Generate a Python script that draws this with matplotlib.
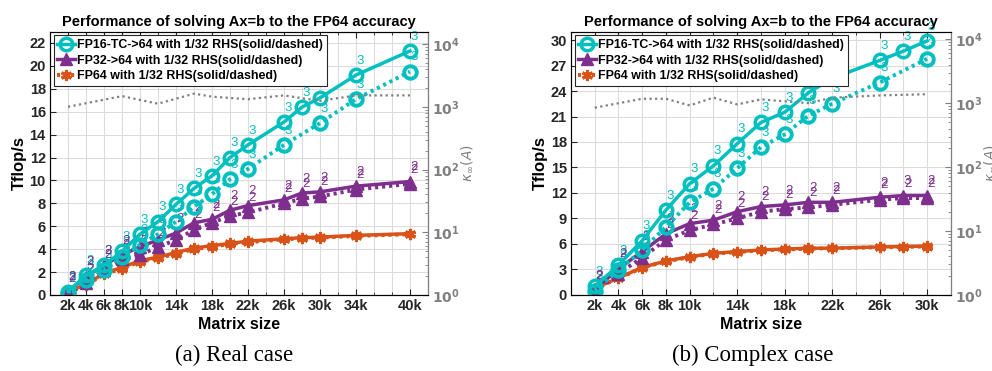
import numpy as np
import matplotlib
matplotlib.use("Agg")
import matplotlib.pyplot as plt
from matplotlib.lines import Line2D

plt.rcParams['font.family'] = ['Liberation Sans', 'DejaVu Sans']
plt.rcParams['mathtext.fontset'] = 'dejavusans'

# ---- real case ----
x_real = [2, 4, 6, 8, 10, 12, 14, 16, 18, 20, 22, 26, 28, 30, 34, 40]
x_real_dash = [2, 4, 6, 8, 10, 12, 14, 16, 18, 20, 22, 26, 30, 34, 40]
fp16_real = [0.3, 1.7, 2.6, 3.8, 5.3, 6.4, 7.9, 9.3, 10.4, 12.0, 13.1, 15.1, 16.4, 17.2, 19.2, 21.3]
fp16_real_dash = [0.2, 1.3, 2.2, 3.3, 4.4, 5.3, 6.4, 7.7, 8.8, 10.1, 11.0, 13.1, 15.0, 17.1, 19.5]
fp32_real = [0.3, 1.6, 2.6, 3.5, 4.2, 4.8, 5.4, 6.3, 6.6, 7.4, 7.8, 8.3, 8.9, 9.0, 9.5, 9.9]
fp32_real_dash = [0.1, 1.0, 2.2, 3.1, 3.5, 4.2, 4.8, 5.7, 6.3, 6.9, 7.2, 8.0, 8.4, 8.6, 9.2, 9.7]
fp64_real = [0.3, 0.9, 1.9, 2.4, 3.0, 3.3, 3.7, 4.1, 4.3, 4.5, 4.7, 4.9, 5.0, 5.05, 5.2, 5.35]
fp64_real_dash = [0.25, 0.85, 1.8, 2.3, 2.9, 3.2, 3.6, 4.0, 4.2, 4.45, 4.6, 4.85, 4.95, 5.0, 5.15, 5.3]
it16_real = [3] * 16
it16_real_dash = [3] * 15
it32_real = [2] * 16
it32_real_dash = [2] * 16
xk_real = [2, 8, 12, 16, 18, 22, 26, 30, 34, 40]
kappa_real = [1000, 1480, 1120, 1620, 1450, 1320, 1520, 1240, 1520, 1520]
xt_real = [2, 4, 6, 8, 10, 14, 18, 22, 26, 30, 34, 40]

# ---- complex case ----
x_cplx = [2, 4, 6, 8, 10, 12, 14, 16, 18, 20, 22, 26, 28, 30]
x_cplx_dash = [2, 4, 6, 8, 10, 12, 14, 16, 18, 20, 22, 26, 30]
fp16_cplx = [1.0, 3.5, 6.4, 10.0, 13.1, 15.2, 17.8, 20.3, 21.5, 23.8, 25.5, 27.6, 28.7, 29.9]
fp16_cplx_dash = [0.5, 2.9, 5.3, 8.0, 10.9, 12.5, 14.9, 17.4, 18.9, 21.1, 22.5, 25.0, 27.8]
fp32_cplx = [0.6, 3.1, 5.1, 7.2, 8.4, 8.8, 9.8, 10.4, 10.6, 10.9, 10.9, 11.5, 11.7, 11.7]
fp32_cplx_dash = [0.4, 2.5, 4.4, 6.5, 7.6, 8.3, 9.0, 9.8, 10.1, 10.3, 10.6, 11.2, 11.4, 11.4]
fp64_cplx = [0.8, 2.0, 3.25, 4.0, 4.5, 4.9, 5.1, 5.3, 5.4, 5.5, 5.5, 5.65, 5.7, 5.75]
fp64_cplx_dash = [0.75, 1.95, 3.2, 3.95, 4.45, 4.85, 5.05, 5.25, 5.35, 5.45, 5.5, 5.6, 5.65, 5.7]
it16_cplx = [3] * 14
it16_cplx_dash = [3] * 13
it32_cplx = [2, 2, 2, 2, 2, 2, 2, 2, 2, 2, 2, 2, 3, 2]
it32_cplx_dash = [2] * 14
xk_cplx = [2, 6, 8, 10, 12, 14, 16, 18, 20, 22, 26, 30]
kappa_cplx = [850, 1170, 1170, 920, 1220, 955, 1145, 1070, 1000, 1220, 1320, 1380]
xt_cplx = [2, 4, 6, 8, 10, 14, 18, 22, 26, 30]

CYAN = '#00bfbf'
PURP = '#7e2f8e'
ORNG = '#d95319'
GRAY = '#808080'
DOT = (0, (0.8, 1.0))

fig = plt.figure(figsize=(9.92, 3.71), dpi=100)


def label_pts(ax, xs, ys, its, color):
    for x, y, it in zip(xs, ys, its):
        ax.annotate(str(it), (x, y), xytext=(3, 6), textcoords='offset points',
                    ha='center', va='bottom', color=color, fontsize=9.5)


def panel(rect, xs, xs_d, s16, d16, s32, d32, s64, d64, i16, i16d, i32, i32d,
          xk, kap, xt, xlim, ylim, ystep, ktop, caption, capx):
    ax = fig.add_axes(rect)
    ax.plot(xs, s16, '-', color=CYAN, lw=2.5, marker='o', ms=9, mfc='none', mew=2.5, zorder=5)
    ax.plot(xs_d, d16, linestyle=DOT, color=CYAN, lw=2.8, marker='o', ms=9, mfc='none', mew=2.8, zorder=5)
    ax.plot(xs, s32, '-', color=PURP, lw=2.5, marker='^', ms=9, zorder=4)
    ax.plot(xs, d32, linestyle=DOT, color=PURP, lw=2.8, marker='^', ms=9, zorder=4)
    ax.plot(xs, s64, '-', color=ORNG, lw=2.5, marker=(6, 2, 0), ms=8, mew=2.2, zorder=3)
    ax.plot(xs, d64, linestyle=DOT, color=ORNG, lw=2.8, marker=(6, 2, 0), ms=8, mew=2.2, zorder=3)
    label_pts(ax, xs, s16, i16, CYAN)
    label_pts(ax, xs_d, d16, i16d, CYAN)
    label_pts(ax, xs, s32, i32, PURP)
    label_pts(ax, xs, d32, i32d, PURP)

    ax.set_xlim(*xlim)
    ax.set_ylim(*ylim)
    ax.set_xticks(xt)
    ax.set_xticklabels(['%dk' % v for v in xt], fontweight='bold', fontsize=10.5)
    ax.set_xticks(np.arange(2, xlim[1] + 0.1, 2), minor=True)
    yt = np.arange(0, ylim[1] + 0.01, ystep)
    ax.set_yticks(yt)
    ax.set_yticklabels(['%d' % v for v in yt], fontweight='bold', fontsize=10.5)
    ax.grid(True, which='major', color='#dcdcdc', lw=0.8)
    ax.grid(True, which='minor', axis='x', color='#dcdcdc', lw=0.8)
    ax.set_axisbelow(True)
    ax.tick_params(direction='in', top=True, length=4, colors='#262626', pad=3)
    ax.tick_params(which='minor', direction='in', top=True, length=2, colors='#262626')
    for s in ax.spines.values():
        s.set_color('#262626')
    ax.set_xlabel('Matrix size', fontweight='bold', fontsize=11.5, labelpad=3)
    ax.set_ylabel('Tflop/s', fontweight='bold', fontsize=12, labelpad=2)
    ax.set_title('Performance of solving Ax=b to the FP64 accuracy',
                 fontweight='bold', fontsize=10.5, pad=4)

    ax2 = ax.twinx()
    ax2.plot(xk, kap, linestyle=(0, (1, 1.5)), color=GRAY, lw=1.6)
    ax2.set_yscale('log')
    ax2.set_ylim(1, 10 ** ktop)
    ax2.set_yticks([1, 10, 100, 1000, 10000])
    ax2.set_yticklabels([r'$\mathbf{10^{%d}}$' % k for k in range(5)], fontsize=10)
    ax2.tick_params(axis='y', which='both', direction='in', colors=GRAY, pad=3)
    ax2.tick_params(axis='y', which='major', length=4)
    ax2.spines['right'].set_color(GRAY)
    ax2.set_ylabel(r'$\kappa_\infty(A)$', color=GRAY, fontsize=10, labelpad=0)

    handles = [
        Line2D([], [], color=CYAN, lw=2.5, marker='o', ms=9, mfc='none', mew=2.5),
        Line2D([], [], color=PURP, lw=2.5, marker='^', ms=9),
        Line2D([], [], color=ORNG, lw=2.8, linestyle=DOT, marker=(6, 2, 0), ms=8, mew=2.2),
    ]
    names = ['FP16-TC->64 with 1/32 RHS(solid/dashed)',
             'FP32->64 with 1/32 RHS(solid/dashed)',
             'FP64 with 1/32 RHS(solid/dashed)']
    leg = ax2.legend(handles, names, loc='upper left', bbox_to_anchor=(0.0, 1.0),
                     prop={'weight': 'bold', 'size': 8.9}, handlelength=1.4,
                     handletextpad=0.2, borderpad=0.3, labelspacing=0.3,
                     borderaxespad=0.3, fancybox=False, framealpha=1)
    leg.get_frame().set_edgecolor('#262626')
    leg.get_frame().set_linewidth(0.8)

    fig.text(capx, 0.043, caption, ha='center', va='center',
             family='Liberation Serif', fontsize=16.5)


panel([0.0504, 0.205, 0.381, 0.71], x_real, x_real_dash, fp16_real, fp16_real_dash,
      fp32_real, fp32_real_dash, fp64_real, fp64_real_dash,
      it16_real, it16_real_dash, it32_real, it32_real_dash,
      xk_real, kappa_real, xt_real, (0, 42), (0, 23), 2, 4.2, '(a) Real case', 0.236)

panel([0.5756, 0.205, 0.383, 0.71], x_cplx, x_cplx_dash, fp16_cplx, fp16_cplx_dash,
      fp32_cplx, fp32_cplx_dash, fp64_cplx, fp64_cplx_dash,
      it16_cplx, it16_cplx_dash, it32_cplx, it32_cplx_dash,
      xk_cplx, kappa_cplx, xt_cplx, (0, 32), (0, 31), 3, 4.12, '(b) Complex case', 0.759)

fig.savefig('out.png', dpi=100)
